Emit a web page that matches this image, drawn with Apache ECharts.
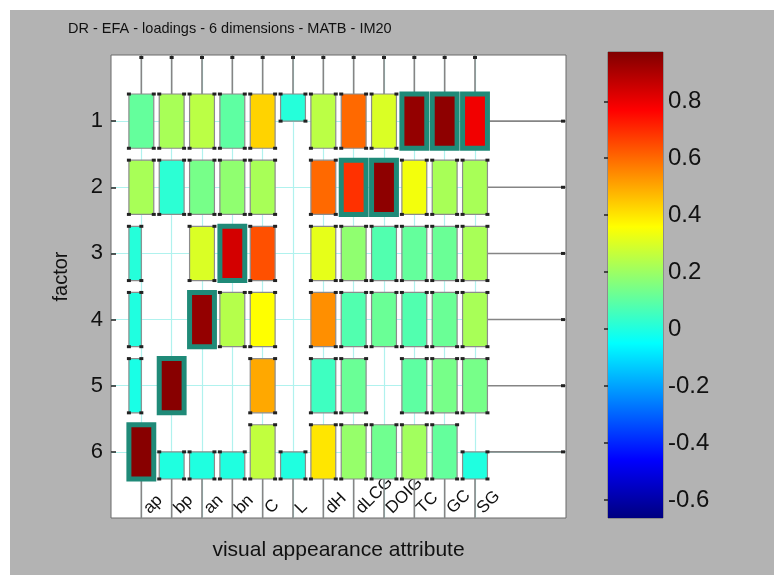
<!DOCTYPE html>
<html>
<head>
<meta charset="utf-8">
<script src="https://cdn.jsdelivr.net/npm/echarts@6/dist/echarts.min.js"></script>
<style>
  html, body { margin: 0; padding: 0; background: #ffffff; }
  #chart { position: absolute; left: 10px; top: 10px; width: 764px; height: 565px; background: #b3b3b3; }
</style>
</head>
<body>
<div id="chart"></div>
<script>
// ---- data ----
const attributes = ['ap','bp','an','bn','C','L','dH','dLCG','DOIG','TC','GC','SG'];
const factors = ['1','2','3','4','5','6'];
const factor1 = [0.11, 0.22, 0.25, 0.10, 0.43, 0.01, 0.25, 0.60, 0.30, 0.94, 0.95, 0.79];
const factor2 = [0.22, 0.02, 0.14, 0.18, 0.22, null, 0.60, 0.69, 0.95, 0.34, 0.22, 0.22];
const factor3 = [0.01, null, 0.30, 0.84, 0.64, null, 0.32, 0.18, 0.08, 0.11, 0.12, 0.22];
const factor4 = [0.00, null, 0.94, 0.24, 0.36, null, 0.54, 0.08, 0.12, 0.08, 0.12, 0.22];
const factor5 = [-0.01, 0.96, null, null, 0.50, null, 0.05, 0.12, null, 0.10, 0.14, 0.14];
const factor6 = [0.96, 0.00, 0.00, 0.00, 0.26, 0.00, 0.40, 0.19, 0.13, 0.21, 0.11, 0.00];
const colorRange = [-0.663, 0.973];
const colorbarTicks = [-0.6, -0.4, -0.2, 0, 0.2, 0.4, 0.6, 0.8];
const titleText = 'DR - EFA - loadings - 6 dimensions - MATB - IM20';
const xName = 'visual appearance attribute';
const yName = 'factor';

// ---- presentation ----
const jet = ['#000080','#0000ff','#0080ff','#00ffff','#80ff80','#ffff00','#ff8000','#ff0000','#800000'];
const highlightThreshold = 0.65;
// cells whose bar is only partly visible in the 3-D view
const cellForms = { '1,6': 'top', '3,1': 'narrow', '4,1': 'narrow', '5,1': 'narrow',
                    '6,2': 'bottom', '6,3': 'bottom', '6,4': 'bottom', '6,6': 'bottom', '6,12': 'bottom' };

const rows = [factor1, factor2, factor3, factor4, factor5, factor6];
const cellData = [];
rows.forEach((vals, r) => vals.forEach((v, c) => {
  if (v !== null) cellData.push([c + 1, r + 1, v]);
}));

const chart = echarts.init(document.getElementById('chart'), null, { renderer: 'canvas' });

function renderCell(params, api) {
  const col = Math.round(api.value(0)), row = Math.round(api.value(1)), v = api.value(2);
  const cs = params.coordSys;
  const c = api.coord([col, row]);
  const s = api.size([0.41, 0.41]);
  const hw = s[0], hh = s[1];
  const fx0 = c[0] - hw, fx1 = c[0] + hw, fy0 = c[1] - hh, fy1 = c[1] + hh;
  let x0 = fx0, x1 = fx1, y0 = fy0, y1 = fy1;
  const form = cellForms[row + ',' + col];
  if (form === 'top') y1 = c[1];
  else if (form === 'bottom') y0 = c[1];
  else if (form === 'narrow') x1 = c[0];
  const children = [];
  const lineStyle = { stroke: '#858585', lineWidth: 1.6 };
  const mark = '#222';
  if (row === 1) {
    children.push({ type: 'line', shape: { x1: c[0], y1: cs.y, x2: c[0], y2: fy0 }, style: lineStyle });
    children.push({ type: 'rect', shape: { x: c[0] - 2, y: cs.y + 1, width: 4, height: 3 }, style: { fill: mark } });
  }
  if (row === factors.length) {
    const yb = cs.y + cs.height;
    children.push({ type: 'line', shape: { x1: c[0], y1: fy1, x2: c[0], y2: yb }, style: lineStyle });
  }
  if (col === attributes.length) {
    children.push({ type: 'line', shape: { x1: fx1, y1: c[1], x2: cs.x + cs.width, y2: c[1] }, style: lineStyle });
    children.push({ type: 'rect', shape: { x: cs.x + cs.width - 5, y: c[1] - 1.5, width: 4, height: 3 }, style: { fill: mark } });
  }
  const hi = v >= highlightThreshold;
  children.push({
    type: 'rect',
    shape: { x: x0, y: y0, width: x1 - x0, height: y1 - y0 },
    style: { fill: api.visual('color'), stroke: hi ? '#1f8a78' : '#8c8c8c', lineWidth: hi ? 5 : 1.2 }
  });
  if (!hi) {
    [[x0, y0], [x1, y0], [x0, y1], [x1, y1]].forEach(p => {
      children.push({ type: 'rect', shape: { x: p[0] - 2, y: p[1] - 1.5, width: 4, height: 3 }, style: { fill: mark } });
    });
  }
  return { type: 'group', children };
}

function renderColorbar(params, api) {
  const top = api.coord([0, api.value(2)]);
  const bot = api.coord([1, api.value(1)]);
  const stops = jet.slice().reverse().map((color, i) => ({ offset: i / (jet.length - 1), color }));
  return {
    type: 'rect',
    shape: { x: top[0], y: top[1], width: bot[0] - top[0], height: bot[1] - top[1] },
    style: { fill: new echarts.graphic.LinearGradient(0, 0, 0, 1, stops) }
  };
}

const font = 'Liberation Sans, Arial, Helvetica, sans-serif';
const colCenters = attributes.map((a, i) => i + 1);
const rowCenters = factors.map((f, i) => i + 1);

chart.setOption({
  backgroundColor: '#b3b3b3',
  animation: false,
  textStyle: { fontFamily: font },
  title: {
    text: titleText, left: 58, top: 11, padding: 0,
    textStyle: { fontFamily: font, fontSize: 14.5, fontWeight: 'normal', color: '#111' }
  },
  grid: [
    { left: 101, top: 45, width: 455, height: 463, show: true, backgroundColor: '#ffffff', borderColor: '#6a6a6a', borderWidth: 1 },
    { left: 598, top: 42, width: 55, height: 466, show: true, backgroundColor: 'transparent', borderColor: '#666', borderWidth: 1 }
  ],
  visualMap: {
    type: 'continuous', show: false, seriesIndex: 0, dimension: 2,
    min: colorRange[0], max: colorRange[1], inRange: { color: jet }
  },
  xAxis: [
    { type: 'value', gridIndex: 0, min: 0, max: 15, axisLine: { show: false },
      axisTick: { show: false, customValues: colCenters },
      axisLabel: { show: false },
      splitLine: { show: true, lineStyle: { color: '#b0f2ee', width: 1.2 } },
      name: xName, nameLocation: 'middle', nameGap: 22,
      nameTextStyle: { fontSize: 21, color: '#111', verticalAlign: 'top' } },
    { type: 'value', gridIndex: 0, min: -0.165, max: 14.835, position: 'bottom',
      axisLine: { show: false }, axisTick: { show: false }, splitLine: { show: false },
      axisLabel: { customValues: colCenters, rotate: 45, margin: -7, fontSize: 17, color: '#111',
                   align: 'left', verticalAlign: 'middle',
                   formatter: v => attributes[Math.round(v) - 1] || '' } },
    { type: 'value', gridIndex: 1, min: 0, max: 1, show: false }
  ],
  yAxis: [
    { type: 'value', gridIndex: 0, min: 0, max: 7, inverse: true,
      axisLine: { show: false },
      axisTick: { show: true, inside: true, length: 5, customValues: rowCenters, lineStyle: { color: '#222', width: 1.5 } },
      axisLabel: { customValues: rowCenters, fontSize: 22, color: '#111', margin: 8, formatter: v => factors[Math.round(v) - 1] || '' },
      splitLine: { show: true, lineStyle: { color: '#b0f2ee', width: 1.2 } },
      name: yName, nameLocation: 'middle', nameGap: 40, nameRotate: 90,
      nameTextStyle: { fontSize: 20, color: '#111', padding: [0, 0, 0, 20] } },
    { type: 'value', gridIndex: 1, min: colorRange[0], max: colorRange[1], position: 'right',
      axisLine: { show: false }, splitLine: { show: false },
      axisTick: { show: true, inside: true, length: 4, customValues: colorbarTicks, lineStyle: { color: '#222', width: 1.5 } },
      axisLabel: { customValues: colorbarTicks, fontSize: 24, color: '#111', margin: 5, formatter: v => String(v) } },
    { type: 'value', gridIndex: 1, min: colorRange[0], max: colorRange[1], position: 'left',
      axisLine: { show: false }, splitLine: { show: false }, axisLabel: { show: false },
      axisTick: { show: true, inside: true, length: 4, customValues: colorbarTicks, lineStyle: { color: '#222', width: 1.5 } } }
  ],
  series: [
    { type: 'custom', name: 'loadings', xAxisIndex: 0, yAxisIndex: 0, renderItem: renderCell,
      encode: { x: 0, y: 1 }, data: cellData, clip: false },
    { type: 'custom', name: 'colorbar', xAxisIndex: 2, yAxisIndex: 1, renderItem: renderColorbar,
      data: [[0, colorRange[0], colorRange[1]]], silent: true }
  ]
});
</script>
</body>
</html>
